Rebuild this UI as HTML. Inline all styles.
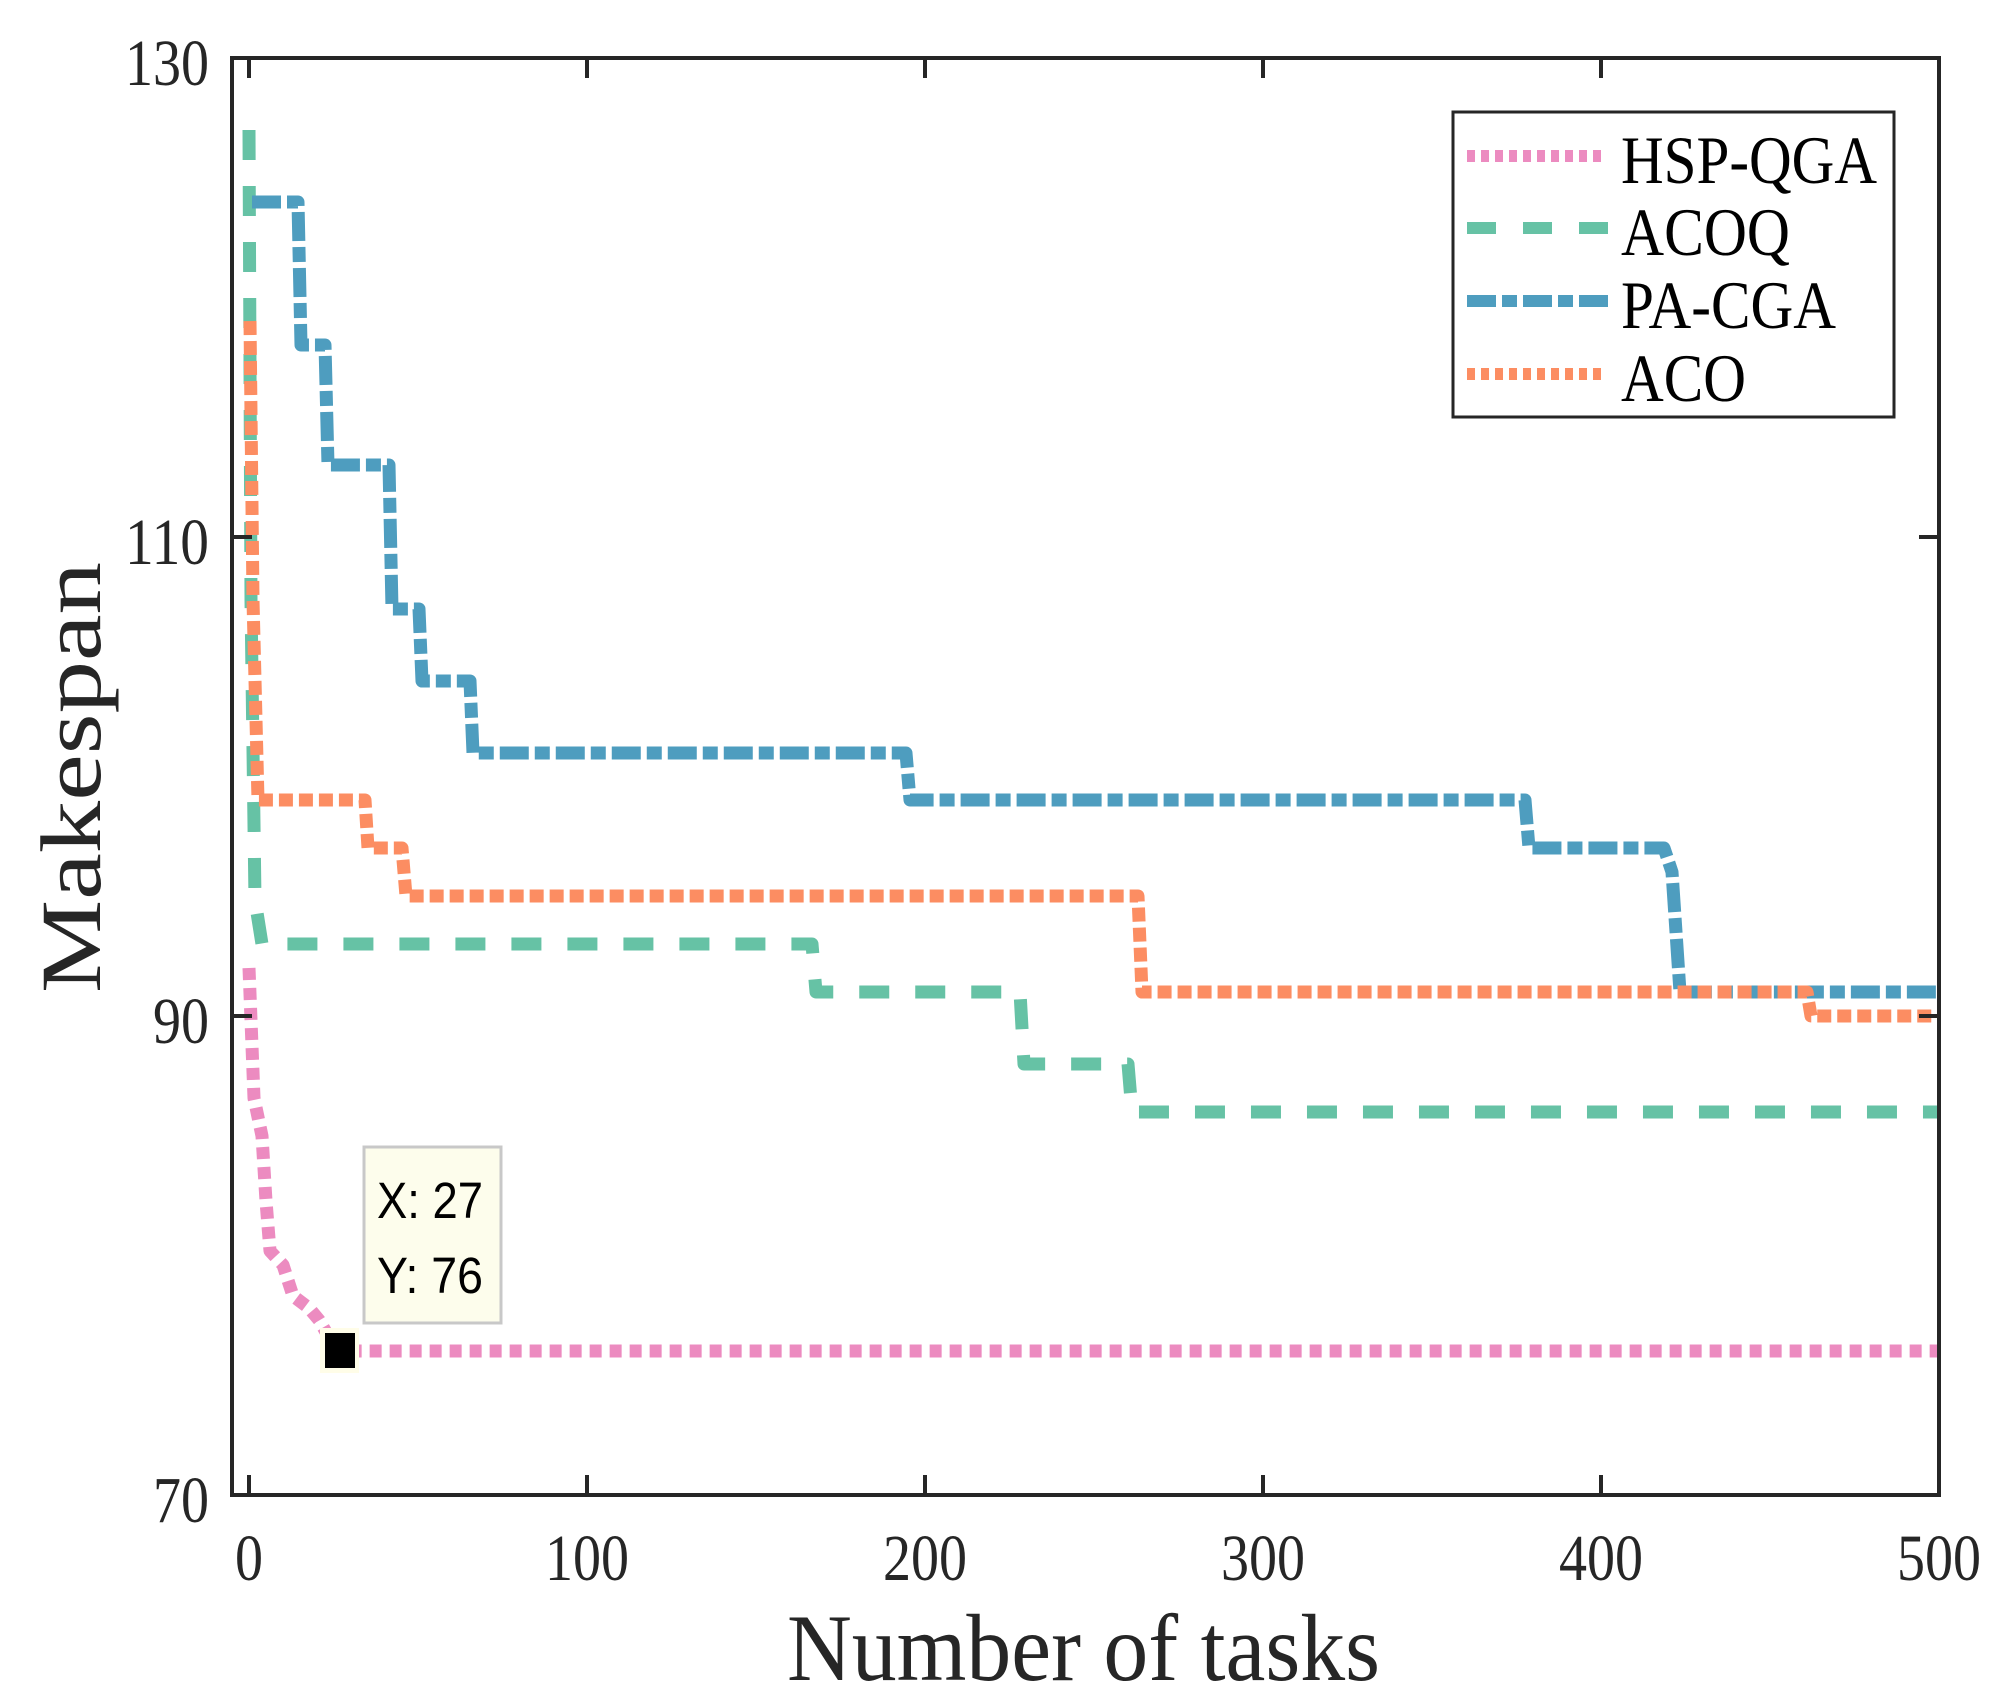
<!DOCTYPE html>
<html><head><meta charset="utf-8"><style>
html,body{margin:0;padding:0;background:#fff;}
svg{display:block;}
</style></head><body>
<svg width="2008" height="1706" viewBox="0 0 2008 1706" xmlns="http://www.w3.org/2000/svg">
<rect width="2008" height="1706" fill="#fff"/>
<defs><clipPath id="c"><rect x="232" y="58" width="1708" height="1437"/></clipPath></defs>
<g clip-path="url(#c)" fill="none" stroke-width="13" stroke-linejoin="round">
  <path d="M249,130 L251,600 L255,900 L262,944 H812 L816,992 H1020 L1024,1064 H1128 L1132,1112 H1939" stroke="#66c2a5" stroke-dasharray="30 26"/>
  <path d="M252,202 H298 L301,345 H325 L328,465 H389 L392,609 H419 L422,681 H470 L473,753 H906 L910,800 H1525 L1529,848 H1664 L1672,872 L1680,992 H1939" stroke="#4e9dbf" stroke-dasharray="29 6 15 6"/>
  <path d="M250,321 L253,600 L258,800 H365 L368,848 H402 L406,896 H1138 L1142,992 H1807 L1811,1016 H1939" stroke="#fc8d62" stroke-dasharray="14 6"/>
  <path d="M249,968 L254,1098 L262,1136 L266,1201 L270,1251 L283,1265 L293,1296 L309,1308 L319,1320 L337,1351 H1939" stroke="#ec8bc0" stroke-dasharray="12 8"/>
</g>
<rect x="320" y="1328" width="39" height="45" fill="#fffde8"/>
<rect x="325" y="1333" width="30" height="35" fill="#000"/>
<rect x="364" y="1147" width="137" height="176" fill="#fdfdec" stroke="#c8c8c8" stroke-width="3"/>
<text x="377" y="1218" font-family="Liberation Sans, sans-serif" font-size="51" fill="#000" textLength="106" lengthAdjust="spacingAndGlyphs">X: 27</text>
<text x="377" y="1293" font-family="Liberation Sans, sans-serif" font-size="51" fill="#000" textLength="106" lengthAdjust="spacingAndGlyphs">Y: 76</text>
<rect x="232" y="58" width="1707" height="1437" fill="none" stroke="#262626" stroke-width="4"/>
<g stroke="#262626" stroke-width="4">
  <line x1="249" y1="1495" x2="249" y2="1475"/><line x1="249" y1="58" x2="249" y2="78"/>
  <line x1="587" y1="1495" x2="587" y2="1475"/><line x1="587" y1="58" x2="587" y2="78"/>
  <line x1="925" y1="1495" x2="925" y2="1475"/><line x1="925" y1="58" x2="925" y2="78"/>
  <line x1="1263" y1="1495" x2="1263" y2="1475"/><line x1="1263" y1="58" x2="1263" y2="78"/>
  <line x1="1601" y1="1495" x2="1601" y2="1475"/><line x1="1601" y1="58" x2="1601" y2="78"/>
  <line x1="232" y1="1016" x2="252" y2="1016"/><line x1="1939" y1="1016" x2="1919" y2="1016"/>
  <line x1="232" y1="537" x2="252" y2="537"/><line x1="1939" y1="537" x2="1919" y2="537"/>
</g>
<g font-family="Liberation Serif, serif" font-size="66" fill="#262626" lengthAdjust="spacingAndGlyphs">
  <text x="235" y="1580" textLength="28" lengthAdjust="spacingAndGlyphs">0</text>
  <text x="545" y="1580" textLength="84" lengthAdjust="spacingAndGlyphs">100</text>
  <text x="883" y="1580" textLength="84" lengthAdjust="spacingAndGlyphs">200</text>
  <text x="1221" y="1580" textLength="84" lengthAdjust="spacingAndGlyphs">300</text>
  <text x="1559" y="1580" textLength="84" lengthAdjust="spacingAndGlyphs">400</text>
  <text x="1897" y="1580" textLength="84" lengthAdjust="spacingAndGlyphs">500</text>
  <text x="153" y="1522" textLength="56" lengthAdjust="spacingAndGlyphs">70</text>
  <text x="153" y="1043" textLength="56" lengthAdjust="spacingAndGlyphs">90</text>
  <text x="125" y="564" textLength="84" lengthAdjust="spacingAndGlyphs">110</text>
  <text x="125" y="85" textLength="84" lengthAdjust="spacingAndGlyphs">130</text>
</g>
<text x="787" y="1680" font-family="Liberation Serif, serif" font-size="95" fill="#262626" textLength="593" lengthAdjust="spacingAndGlyphs">Number of tasks</text>
<text transform="translate(100,993) rotate(-90)" x="0" y="0" font-family="Liberation Serif, serif" font-size="86" fill="#262626" textLength="431" lengthAdjust="spacingAndGlyphs">Makespan</text>
<rect x="1453" y="112" width="441" height="305" fill="#fff" stroke="#262626" stroke-width="3"/>
<g stroke-width="12" fill="none">
  <line x1="1467" y1="156" x2="1602" y2="156" stroke="#ec8bc0" stroke-dasharray="8 6"/>
  <line x1="1467" y1="228" x2="1609" y2="228" stroke="#66c2a5" stroke-dasharray="29 27"/>
  <line x1="1467" y1="301" x2="1609" y2="301" stroke="#4e9dbf" stroke-dasharray="29 6 15 6"/>
  <line x1="1467" y1="374" x2="1602" y2="374" stroke="#fc8d62" stroke-dasharray="8 6"/>
</g>
<g font-family="Liberation Serif, serif" font-size="68" fill="#000">
  <text x="1621" y="183" textLength="256" lengthAdjust="spacingAndGlyphs">HSP-QGA</text>
  <text x="1621" y="255" textLength="169" lengthAdjust="spacingAndGlyphs">ACOQ</text>
  <text x="1621" y="328" textLength="215" lengthAdjust="spacingAndGlyphs">PA-CGA</text>
  <text x="1621" y="401" textLength="125" lengthAdjust="spacingAndGlyphs">ACO</text>
</g>
</svg>
</body></html>
